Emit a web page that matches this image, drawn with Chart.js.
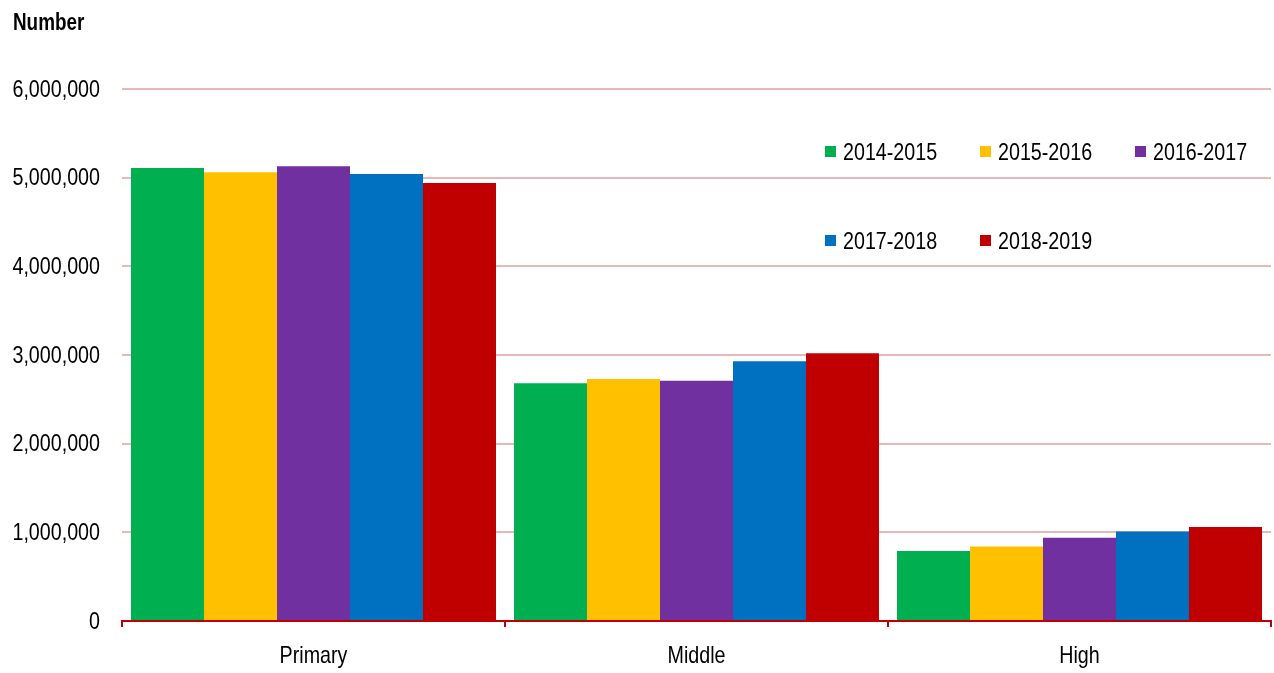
<!DOCTYPE html>
<html>
<head>
<meta charset="utf-8">
<script src="https://cdn.jsdelivr.net/npm/chart.js"></script>
<style>
  html, body { margin: 0; padding: 0; background: #fff; }
  #wrap { width: 1274px; height: 673px; position: relative; }
</style>
</head>
<body>
<div id="wrap"><canvas id="chart"></canvas></div>
<script>
const categories = ['Primary', 'Middle', 'High'];
const years = ['2014-2015', '2015-2016', '2016-2017', '2017-2018', '2018-2019'];
const colors = ['#00B050', '#FFC000', '#7030A0', '#0070C0', '#C00000'];

const y2014 = [5110000, 2680000, 790000];
const y2015 = [5060000, 2730000, 840000];
const y2016 = [5130000, 2710000, 940000];
const y2017 = [5040000, 2930000, 1010000];
const y2018 = [4940000, 3020000, 1060000];
const seriesValues = [y2014, y2015, y2016, y2017, y2018];

const FONT = "'Liberation Sans', Arial, sans-serif";
const SQUEEZE = 0.82; // the original uses a narrow face, so squeeze horizontally

function narrowText(ctx, text, x, y, align) {
  ctx.save();
  ctx.translate(x, y);
  ctx.scale(SQUEEZE, 1);
  ctx.textAlign = align;
  ctx.fillText(text, 0, 0);
  ctx.restore();
}

// tick labels, legend and axis title drawn with a narrow look
const narrowLabels = {
  id: 'narrowLabels',
  afterDraw(chart) {
    const ctx = chart.ctx;
    const area = chart.chartArea;
    const xs = chart.scales.x, ys = chart.scales.y;
    ctx.save();
    ctx.fillStyle = '#000';
    ctx.textBaseline = 'middle';
    ctx.font = '24px ' + FONT;

    ys.ticks.forEach((t, i) => {
      narrowText(ctx, t.value.toLocaleString('en-US'), area.left - 22, ys.getPixelForTick(i) + 1, 'right');
    });
    xs.ticks.forEach((t, i) => {
      narrowText(ctx, categories[t.value], xs.getPixelForTick(i), area.bottom + 35, 'center');
    });

    const startX = area.right - 446;
    const rows = [area.top + 63, area.top + 152];
    chart.data.datasets.forEach((ds, i) => {
      const col = i % 3, row = Math.floor(i / 3);
      const x = startX + col * 155;
      const y = rows[row];
      ctx.fillStyle = ds.backgroundColor;
      ctx.fillRect(x, y - 6, 11, 11);
      ctx.fillStyle = '#000';
      narrowText(ctx, ds.label, x + 18, y + 1, 'left');
    });

    ctx.font = 'bold 23px ' + FONT;
    narrowText(ctx, 'Number', 13, 24, 'left');
    ctx.restore();
  }
};

new Chart(document.getElementById('chart'), {
  type: 'bar',
  data: {
    labels: categories,
    datasets: years.map((y, i) => ({
      label: y,
      data: seriesValues[i],
      backgroundColor: colors[i],
      borderWidth: 0,
      categoryPercentage: 0.953,
      barPercentage: 1.0
    }))
  },
  options: {
    responsive: true,
    maintainAspectRatio: false,
    animation: false,
    layout: { padding: { top: 89, right: 3, left: 0, bottom: 0 } },
    plugins: {
      legend: { display: false },
      tooltip: { enabled: false }
    },
    scales: {
      x: {
        grid: {
          drawOnChartArea: false,
          color: '#C00000',
          lineWidth: 2,
          tickLength: 6
        },
        border: { color: '#C00000', width: 2 },
        ticks: { display: false },
        afterFit(s) { s.height = 52; }
      },
      y: {
        min: 0,
        max: 6000000,
        ticks: { stepSize: 1000000, display: false },
        grid: {
          color: '#E6B9B8',
          lineWidth: 2,
          drawTicks: false
        },
        border: { display: false },
        afterFit(s) { s.width = 122; }
      }
    }
  },
  plugins: [narrowLabels]
});
</script>
</body>
</html>
